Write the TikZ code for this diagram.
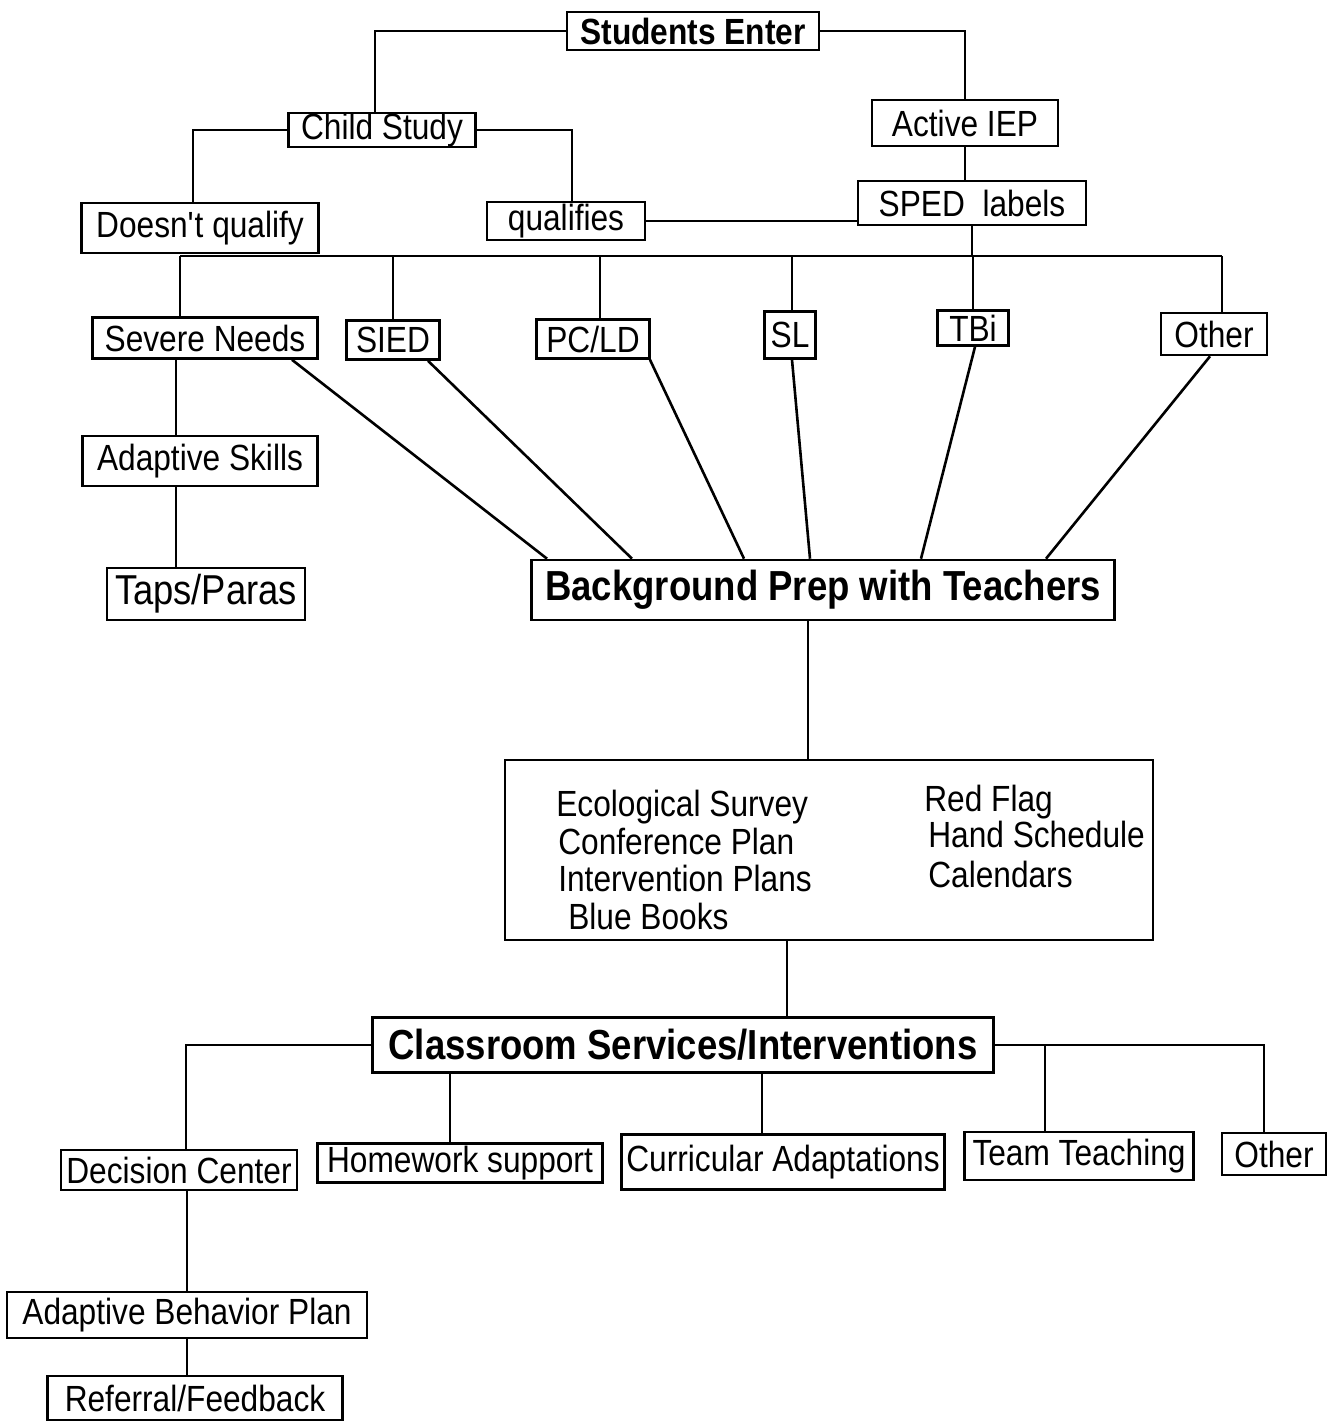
\documentclass[tikz,border=0pt]{standalone}
\usepackage{fontspec}
\setmainfont{Liberation Sans}[FakeStretch=0.87]
\usetikzlibrary{calc}

\begin{document}
\begin{tikzpicture}[x=0.5pt,y=-0.5pt,line width=1.3pt,
  box/.style={draw,inner sep=0pt,font=\fontsize{18.2}{21}\selectfont},
  head/.style={box,font=\fontsize{18.2}{21}\selectfont\bfseries},
  big/.style={box,font=\fontsize{21}{24}\selectfont\bfseries},
  item/.style={anchor=base west,inner sep=0pt,font=\fontsize{18.2}{21}\selectfont}]
\useasboundingbox (0,0) rectangle (1328,1423);
% Entry and referral
\node[head,minimum width=126pt,minimum height=19pt] (enter) at (693,31) {Students Enter};
\node[box,minimum width=93.5pt,minimum height=16pt] (child) at (382,130) {Child Study};
\node[box,minimum width=93pt,minimum height=23pt] (iep) at (965,123) {Active IEP};
\node[box,minimum width=118.5pt,minimum height=25pt] (noq) at (200,228) {Doesn\textquotesingle t qualify};
\node[box,minimum width=79pt,minimum height=19pt] (qual) at (566,221) {qualifies};
\node[box,minimum width=114pt,minimum height=22pt] (sped) at (972,203) {SPED~~labels};
\draw (enter.west) -| ($(child.north)+(-7,0)$);
\draw (enter.east) -| (iep.north);
\draw (child.west) -| ($(noq.north)+(-7,0)$);
\draw (child.east) -| ($(qual.north)+(6,0)$);
\draw (qual.east) -- (qual.east -| sped.west);
\draw (iep.south) -- (iep.south |- sped.north);
% Categories
\node[box,minimum width=112.5pt,minimum height=20.5pt] (severe) at (205,338) {Severe Needs};
\node[box,minimum width=46.5pt,minimum height=19.5pt] (sied) at (393,340) {SIED};
\node[box,minimum width=56.5pt,minimum height=19.5pt] (pcld) at (593,339) {PC/LD};
\node[box,minimum width=25.5pt,minimum height=23.5pt] (sl) at (790,335) {SL};
\node[box,minimum width=35.5pt,minimum height=17.5pt] (tbi) at (973,328) {TBi};
\node[box,minimum width=53pt,minimum height=21pt] (other1) at (1214,334) {Other};
\coordinate (bus) at (0,256);
\coordinate (busL) at (180,256);
\coordinate (busR) at (1222,256);
\draw (busL) -- (busR);
\draw (sped.south) -- (sped.south |- bus);
\foreach \n/\dx in {severe/-25,sied/0,pcld/7,sl/2,tbi/0,other1/8}
  \draw ($(\n.north)+(\dx,0)$) -- ($(\n.north |- bus)+(\dx,0)$);
\node[box,minimum width=117.5pt,minimum height=25pt] (adapt) at (200,461) {Adaptive Skills};
\node[box,minimum width=99pt,minimum height=26pt,font=\fontsize{20.9}{24}\selectfont] (taps) at (206,594) {Taps/Paras};
\draw ($(severe.south)+(-29,0)$) -- ($(adapt.north)+(-24,0)$);
\draw ($(adapt.south)+(-24,0)$) -- ($(taps.north)+(-30,0)$);
% Background prep
\node[big,minimum width=291.5pt,minimum height=30pt] (bg) at (823,590) {Background Prep with Teachers};
\foreach \n/\a/\b in {severe/87/-276,sied/35/-191,pcld/57/-79,sl/2/-13,tbi/2/98,other1/-4/223}
  \draw ($(\n.south)+(\a,0)$) -- ($(bg.north)+(\b,0)$);
\node[draw,inner sep=0pt,minimum width=324pt,minimum height=90pt] (list) at (829,850) {};
\foreach \i/\txt/\x/\y in {1/Ecological Survey/555/816,2/Conference Plan/557/854,3/Intervention Plans/557/891,4/Blue Books/567/929,5/Red Flag/923/811,6/Hand Schedule/927/847,7/Calendars/927/887}
  \node[item] (l\i) at (\x,\y) {\txt};
\draw ($(bg.south)+(-15,0)$) -- ($(list.north)+(-21,0)$);
% Services
\node[big,minimum width=310.5pt,minimum height=27.5pt] (class) at (683,1045) {Classroom Services/Interventions};
\draw ($(list.south)+(-42,0)$) -- ($(class.north)+(104,0)$);
\node[box,minimum width=118pt,minimum height=20pt] (dec) at (179,1170) {Decision Center};
\node[box,minimum width=142.5pt,minimum height=19.5pt] (hw) at (460,1163) {Homework support};
\node[box,minimum width=161.5pt,minimum height=27.5pt] (curr) at (783,1162) {Curricular Adaptations};
\node[box,minimum width=114.5pt,minimum height=24pt] (team) at (1079,1156) {Team Teaching};
\node[box,minimum width=52pt,minimum height=21pt] (other2) at (1274,1154) {Other};
\draw (class.west) -| ($(dec.north)+(7,0)$);
\draw ($(class.south)+(-233,0)$) -- ($(hw.north)+(-10,0)$);
\draw ($(class.south)+(79,0)$) -- ($(curr.north)+(-21,0)$);
\draw (class.east) -| ($(other2.north)+(-10,0)$);
\coordinate (tt) at ($(team.north)+(-34,0)$);
\draw (tt) -- (tt |- class.east);
\node[box,minimum width=180pt,minimum height=23pt] (abp) at (187,1315) {Adaptive Behavior Plan};
\node[box,minimum width=147.5pt,minimum height=22pt] (refb) at (195,1398) {Referral/Feedback};
\draw (abp.north |- dec.south) -- (abp.north);
\draw (abp.south) -- (abp.south |- refb.north);
\end{tikzpicture}
\end{document}
